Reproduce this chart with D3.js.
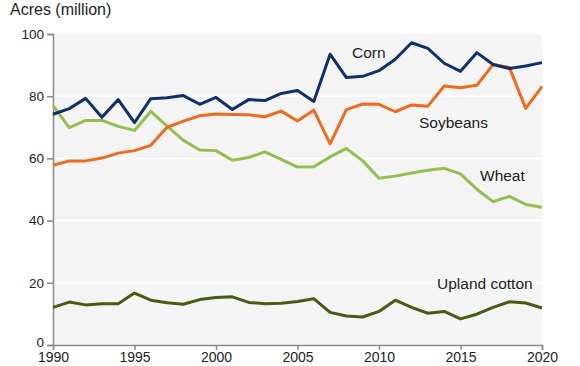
<!DOCTYPE html>
<html>
<head>
<meta charset="utf-8">
<script src="https://cdn.jsdelivr.net/npm/d3@7"></script>
<style>
  body { margin: 0; background: #fff; }
  text { font-family: "Liberation Sans", Arial, sans-serif; fill: #222; }
</style>
</head>
<body>
<div id="chart"></div>
<script>
// planted acres, million
var years = d3.range(1990, 2021);
var corn = [74.2, 76.0, 79.3, 73.2, 78.9, 71.5, 79.2, 79.5, 80.2, 77.4, 79.6, 75.7, 78.9, 78.6, 80.9, 81.8, 78.3, 93.5, 86.0, 86.4, 88.2, 91.9, 97.2, 95.4, 90.6, 88.0, 94.0, 90.2, 88.9, 89.7, 90.8];
var soybeans = [57.8, 59.2, 59.2, 60.1, 61.7, 62.5, 64.2, 70.0, 72.0, 73.7, 74.3, 74.1, 74.0, 73.4, 75.2, 72.0, 75.5, 64.7, 75.7, 77.5, 77.4, 75.0, 77.2, 76.8, 83.3, 82.7, 83.5, 90.2, 89.2, 76.1, 83.1];
var wheat = [77.0, 69.9, 72.2, 72.2, 70.3, 69.0, 75.1, 70.4, 65.8, 62.7, 62.5, 59.4, 60.3, 62.1, 59.7, 57.2, 57.3, 60.5, 63.2, 59.2, 53.6, 54.3, 55.3, 56.2, 56.8, 55.0, 50.1, 46.1, 47.8, 45.2, 44.3];
var cotton = [12.1, 13.8, 12.9, 13.3, 13.3, 16.7, 14.4, 13.6, 13.1, 14.6, 15.3, 15.5, 13.7, 13.3, 13.4, 14.0, 14.9, 10.5, 9.3, 9.0, 10.8, 14.4, 12.1, 10.2, 10.8, 8.4, 9.9, 12.1, 13.9, 13.5, 11.9];
var xTicks = [1990, 1995, 2000, 2005, 2010, 2015, 2020];
var yTicks = [0, 20, 40, 60, 80, 100];

var series = [
    { name: "Wheat", values: wheat, color: "#93bf4f", label: [480, 181] },
    { name: "Soybeans", values: soybeans, color: "#ee6a1d", label: [419, 128] },
    { name: "Corn", values: corn, color: "#10306b", label: [352, 58] },
    { name: "Upland cotton", values: cotton, color: "#4b5a12", label: [437, 289] }
];

var svgWidth = 580;
var svgHeight = 366;
var margin = { top: 34, right: 38, bottom: 21, left: 53 };
var width = svgWidth - margin.left - margin.right;
var height = svgHeight - margin.top - margin.bottom;

var svg = d3.select("#chart")
    .append("svg")
    .attr("width", svgWidth)
    .attr("height", svgHeight);

var chartGroup = svg.append("g")
    .attr("transform", `translate(${margin.left}, ${margin.top})`);

var x = d3.scaleLinear().domain([1990, 2020]).range([0, width]);
var y = d3.scaleLinear().domain([0, 100]).range([height, 0]);

// plot background
chartGroup.append("rect")
    .attr("width", width)
    .attr("height", height)
    .attr("fill", "#f4f4f4");

// faint gridlines
chartGroup.selectAll(".grid")
    .data(yTicks.slice(1, -1))
    .enter()
    .append("line")
    .attr("x1", 0)
    .attr("x2", width)
    .attr("y1", d => y(d))
    .attr("y2", d => y(d))
    .attr("stroke", "#fff")
    .attr("stroke-width", 1.5);

// axes
var leftAxis = d3.axisLeft(y).tickValues(yTicks).tickSize(6).tickPadding(3);
var bottomAxis = d3.axisBottom(x).tickValues(xTicks).tickFormat(d3.format("d")).tickSize(5).tickPadding(2);

var yAxis = chartGroup.append("g").call(leftAxis);
var xAxis = chartGroup.append("g")
    .attr("transform", `translate(0, ${height})`)
    .call(bottomAxis);

[xAxis, yAxis].forEach(function(ax) {
    ax.selectAll("path, line").attr("stroke", "#8a8a8a").attr("stroke-width", 1.5);
    ax.selectAll("text")
        .style("font-family", "'Liberation Sans', Arial, sans-serif")
        .style("font-size", "14px")
        .attr("fill", "#222");
});
yAxis.selectAll("text").style("font-size", "13.5px");
// nudge the 0 label so it clears 1990
yAxis.selectAll("text").filter(d => d === 0).attr("y", -3);

// lines
var line = d3.line()
    .x((d, i) => x(years[i]))
    .y(d => y(d));

chartGroup.selectAll(".crop")
    .data(series)
    .enter()
    .append("path")
    .attr("d", d => line(d.values))
    .attr("fill", "none")
    .attr("stroke", d => d.color)
    .attr("stroke-width", 3)
    .attr("stroke-linejoin", "round");

// series labels
svg.selectAll(".cropLabel")
    .data(series)
    .enter()
    .append("text")
    .attr("x", d => d.label[0])
    .attr("y", d => d.label[1])
    .style("font-size", "15.5px")
    .text(d => d.name);

// y axis title
svg.append("text")
    .attr("x", 10)
    .attr("y", 15)
    .style("font-size", "16px")
    .text("Acres (million)");
</script>
</body>
</html>
